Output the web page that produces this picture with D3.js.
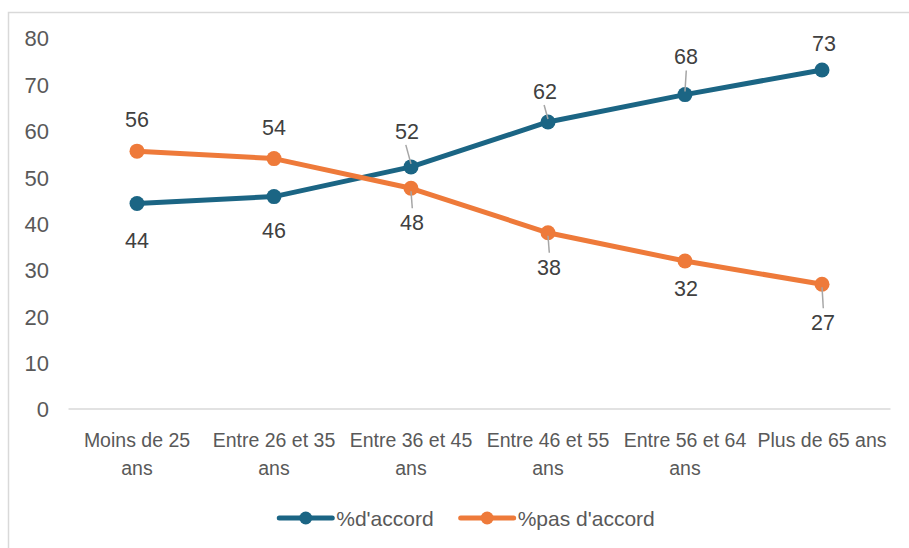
<!DOCTYPE html>
<html>
<head>
<meta charset="utf-8">
<script src="https://cdn.jsdelivr.net/npm/d3@7"></script>
<style>
  html, body { margin: 0; padding: 0; background: #fff; }
  svg { display: block; }
  text { font-family: "Liberation Sans", Arial, sans-serif; }
</style>
</head>
<body>
<svg id="chart" width="909" height="548"></svg>
<script>
// ---- data ----
const categories = ["Moins de 25 ans", "Entre 26 et 35 ans", "Entre 36 et 45 ans", "Entre 46 et 55 ans", "Entre 56 et 64 ans", "Plus de 65 ans"];
const accordValues = [44.3, 45.8, 52.2, 61.9, 67.8, 73.1];
const pasAccordValues = [55.6, 54.0, 47.6, 38.0, 31.9, 26.9];
const accordLabels = ["44", "46", "52", "62", "68", "73"];
const pasAccordLabels = ["56", "54", "48", "38", "32", "27"];
const yTicks = [0, 10, 20, 30, 40, 50, 60, 70, 80];
const seriesNames = ["%d'accord", "%pas d'accord"];

// ---- layout / style ----
const W = 909, H = 548;
const colors = ["#1B6584", "#EE7A3A"];
const labelOffsets = [
  [[0, 37, false], [0, 34, false], [-4, -36, true], [-3, -31, true], [1, -38, true], [2, -27, false]],
  [[0, -32, false], [0, -31, false], [1, 34, true], [1, 34, true], [1, 27, false], [1, 38, true]]
];

const svg = d3.select("#chart");
svg.append("rect").attr("x", 8.5).attr("y", 12.5).attr("width", W).attr("height", H)
  .attr("fill", "#fff").attr("stroke", "#d9d9d9").attr("stroke-width", 1.5);

const x = d3.scaleBand().domain(categories).range([68.5, 890.5]);
const y = d3.scaleLinear().domain([0, 80]).range([409, 38]);
const cx = c => x(c) + x.bandwidth() / 2;

// baseline gridline
svg.append("line").attr("x1", 68.5).attr("x2", 890.5).attr("y1", y(0)).attr("y2", y(0))
  .attr("stroke", "#d9d9d9").attr("stroke-width", 1.5);

// y axis labels
const yAxis = d3.axisLeft(y).tickValues(yTicks).tickSize(0).tickPadding(0);
const gy = svg.append("g").attr("transform", "translate(49,0)").call(yAxis);
gy.select(".domain").remove();
gy.selectAll("text").attr("font-size", 22).attr("fill", "#595959")
  .attr("font-family", "Liberation Sans, Arial, sans-serif").attr("dy", "0.36em");

// x axis labels (wrapped)
const gx = svg.append("g");
categories.forEach(c => {
  const words = c.split(" ");
  let line1, line2;
  if (c === "Plus de 65 ans") { line1 = c; line2 = null; }
  else { line1 = words.slice(0, words.length - 1).join(" "); line2 = words[words.length - 1]; }
  const t = gx.append("text").attr("x", cx(c)).attr("text-anchor", "middle")
    .attr("font-size", 19.5).attr("fill", "#595959");
  t.append("tspan").attr("x", cx(c)).attr("y", 447).text(line1);
  if (line2) t.append("tspan").attr("x", cx(c)).attr("y", 475).text(line2);
});

// series
const series = [accordValues, pasAccordValues];
const labels = [accordLabels, pasAccordLabels];
const line = d3.line().x((d, i) => cx(categories[i])).y(d => y(d));

series.forEach((vals, s) => {
  svg.append("path").datum(vals).attr("d", line).attr("fill", "none")
    .attr("stroke", colors[s]).attr("stroke-width", 5).attr("stroke-linejoin", "round").attr("stroke-linecap", "round");
  svg.selectAll(null).data(vals).enter().append("circle")
    .attr("cx", (d, i) => cx(categories[i])).attr("cy", d => y(d)).attr("r", 7.5)
    .attr("fill", colors[s]);
});

// data labels with leader lines
series.forEach((vals, s) => {
  vals.forEach((v, i) => {
    const px = cx(categories[i]), py = y(v);
    const [dx, dy, leader] = labelOffsets[s][i];
    const lx = px + dx, ly = py + dy;
    if (leader) {
      const dir = Math.sign(dy);
      svg.append("line")
        .attr("x1", px).attr("y1", py + dir * 3)
        .attr("x2", lx + (dx === 0 ? 0 : dx * 0.3)).attr("y2", ly - dir * 14)
        .attr("stroke", "#a6a6a6").attr("stroke-width", 1.5);
    }
    svg.append("text").attr("x", lx).attr("y", ly).attr("dy", "0.36em")
      .attr("text-anchor", "middle").attr("font-size", 21.5).attr("fill", "#404040")
      .text(labels[s][i]);
  });
});

// legend
const legendY = 518;
const legend = svg.append("g");
const items = [];
let totalW = 0;
seriesNames.forEach((n, i) => {
  const g = legend.append("g");
  g.append("line").attr("x1", 0).attr("x2", 53).attr("y1", 0).attr("y2", 0)
    .attr("stroke", colors[i]).attr("stroke-width", 5).attr("stroke-linecap", "round");
  g.append("circle").attr("cx", 26.5).attr("cy", 0).attr("r", 6.5).attr("fill", colors[i]);
  const t = g.append("text").attr("x", 57).attr("y", 0).attr("dy", "0.36em")
    .attr("font-size", 21).attr("fill", "#595959").text(n);
  const w = 57 + t.node().getComputedTextLength();
  items.push({ g, w });
  totalW += w;
});
const gap = 27;
totalW += gap;
let lxStart = 467 - totalW / 2;
items.forEach(it => {
  it.g.attr("transform", `translate(${lxStart},${legendY})`);
  lxStart += it.w + gap;
});
</script>
</body>
</html>
